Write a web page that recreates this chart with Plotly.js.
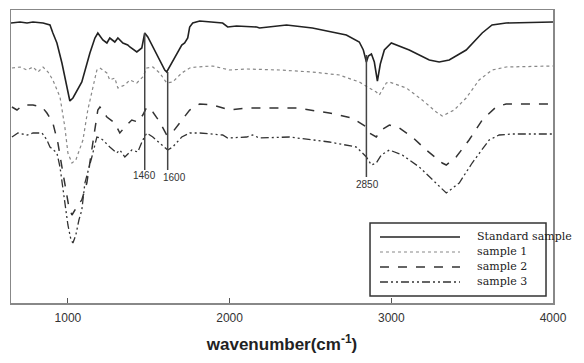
<!DOCTYPE html>
<html>
<head>
<meta charset="utf-8">
<script src="https://cdn.plot.ly/plotly-3.0.1.min.js"></script>
<style>html,body{margin:0;padding:0;background:#fff;}#chart{width:584px;height:363px;}</style>
</head>
<body>
<div id="chart"></div>
<script>
// Wavenumbers (cm^-1) and offset transmittance (arbitrary units) per spectrum
const stdWn = [648,704,747,784,846,889,907,932,963,994,1012,1031,1086,1136,1167,1185,1216,1241,1259,1290,1309,1340,1370,1383,1426,1457,1475,1494,1525,1568,1599,1611,1642,1673,1704,1722,1741,1753,1772,1815,1877,1957,1988,2043,2167,2185,2352,2512,2722,2802,2827,2846,2858,2877,2895,2914,2932,2957,3000,3111,3235,3296,3358,3463,3562,3623,3710,4000];
const stdT  = [280,281,280,281,280,278,270,260,240,216,202,205,221,250,265,270,263,260,265,261,265,260,258,256,251,255,270,266,256,243,233,231,240,250,258,260,265,276,280,282,281,280,276,277,276,275,278,275,268,261,253,241,247,249,241,222,239,253,260,253,243,241,243,253,270,278,280,281];

const s1Wn = [654,704,747,784,815,846,877,907,951,981,1000,1025,1049,1093,1123,1154,1179,1198,1241,1259,1290,1309,1352,1383,1426,1463,1488,1525,1568,1611,1648,1704,1753,1796,1895,2000,2105,2309,2512,2679,2802,2864,2907,2926,2969,2988,3093,3191,3278,3315,3389,3463,3543,3623,3710,4000];
const s1T  = [235,236,233,236,231,236,231,223,206,176,150,140,143,163,193,216,233,235,230,223,225,215,218,223,220,226,235,236,230,220,221,230,235,236,237,233,234,233,231,228,221,215,211,208,220,221,215,203,191,187,193,205,223,233,236,237];

const s2Wn = [654,685,722,784,840,870,907,938,963,988,1006,1025,1043,1062,1086,1117,1154,1185,1198,1241,1290,1321,1352,1395,1432,1463,1488,1525,1568,1611,1648,1704,1753,1815,1895,2000,2105,2265,2414,2617,2759,2846,2864,2907,2938,2988,3049,3130,3216,3315,3340,3401,3481,3562,3648,3710,4000];
const s2T  = [196,193,198,198,196,190,180,160,136,113,96,88,93,98,103,120,160,193,196,186,180,170,176,183,181,188,196,191,181,168,171,183,193,199,198,193,195,195,195,190,185,176,170,166,173,178,175,166,153,140,138,146,163,183,196,199,199];

const s3Wn = [654,691,747,784,840,870,889,932,951,975,1000,1019,1031,1049,1068,1086,1105,1148,1179,1198,1216,1259,1302,1321,1352,1395,1432,1463,1488,1525,1568,1617,1648,1704,1753,1815,1957,1988,2105,2142,2185,2370,2617,2784,2846,2877,2907,2938,2988,3068,3173,3278,3340,3420,3500,3605,3667,3747,4000];
const s3T  = [166,170,168,170,170,163,156,150,136,108,78,63,60,68,83,93,120,146,166,165,163,156,150,153,146,153,151,163,170,166,160,153,156,166,170,170,168,165,166,168,165,166,161,156,146,138,140,148,153,148,136,120,110,120,140,163,168,169,169];

const seriesNames = ['Standard sample','sample 1','sample 2','sample 3'];
const peakPositions = [1475, 1617, 2846];
const peakLabels = ['1460','1600','2850'];
const peakTop = [270, 231, 248];
const xTicks = [1000, 2000, 3000, 4000];

const styles = [
  {color:'#222', width:1.6, dash:'solid'},
  {color:'#888', width:1.2, dash:'dot'},
  {color:'#333', width:1.5, dash:'dash'},
  {color:'#333', width:1.3, dash:'8px,3px,2px,3px,2px,3px'}
];
const xs = [stdWn, s1Wn, s2Wn, s3Wn];
const ys = [stdT, s1T, s2T, s3T];

const traces = seriesNames.map((n,i)=>({
  x: xs[i], y: ys[i], name: n, type:'scatter', mode:'lines',
  line: styles[i], showlegend:false
}));

const shapes = peakPositions.map((p,i)=>({
  type:'line', xref:'x', yref:'y', x0:p, x1:p, y0:peakTop[i], y1: i===2 ? 126 : 133,
  line:{color:'#444', width:1.5}
}));
const labelOffsets = [[0,0],[40,-2],[6,-9]];
const annotations = peakLabels.map((t,i)=>({
  x: peakPositions[i] + labelOffsets[i][0], y: 128 + labelOffsets[i][1], xref:'x', yref:'y',
  text:t, showarrow:false, xanchor:'center', yanchor:'middle',
  font:{family:'Liberation Sans, Arial, sans-serif', size:10, color:'#333'}
}));

// Legend drawn as a framed key (paper coordinates)
shapes.push({type:'rect', xref:'paper', yref:'paper', x0:0.6624, x1:0.9871, y0:0.024, y1:0.273,
  line:{color:'#333', width:1.5}, fillcolor:'rgba(0,0,0,0)'});
const legendRows = [0.2253, 0.1741, 0.1229, 0.0717];
seriesNames.forEach((n,i)=>{
  shapes.push({type:'line', xref:'paper', yref:'paper', x0:0.6808, x1:0.8284,
    y0:legendRows[i], y1:legendRows[i], line:{color:styles[i].color, width:styles[i].width, dash:styles[i].dash}});
  annotations.push({xref:'paper', yref:'paper', x:0.856, y:legendRows[i], text:n, showarrow:false,
    xanchor:'left', yanchor:'middle',
    font:{family:'DejaVu Serif, Liberation Serif, serif', size:11, color:'#222'}});
});

const layout = {
  width:584, height:363,
  margin:{l:11, r:31, t:10, b:60},
  paper_bgcolor:'#fff', plot_bgcolor:'#fff',
  showlegend:false,
  xaxis:{
    range:[648,4000], tickvals:xTicks, ticktext:xTicks.map(String),
    ticks:'inside', ticklen:5, tickcolor:'#555', ticklabelstandoff:3,
    showline:true, mirror:true, linecolor:'#888', linewidth:1.5,
    showgrid:false, zeroline:false,
    tickfont:{family:'Liberation Sans, Arial, sans-serif', size:12, color:'#333'},
    title:{text:'wavenumber(cm<sup>-1</sup>)', standoff:14,
      font:{family:'Liberation Sans, Arial, sans-serif', size:17, color:'#222', weight:'bold'}}
  },
  yaxis:{
    range:[0,293], showticklabels:false, ticks:'',
    showline:true, mirror:true, linecolor:'#888', linewidth:1.5,
    showgrid:false, zeroline:false
  },
  shapes: shapes,
  annotations: annotations
};

Plotly.newPlot('chart', traces, layout, {displayModeBar:false, staticPlot:true});
</script>
</body>
</html>
